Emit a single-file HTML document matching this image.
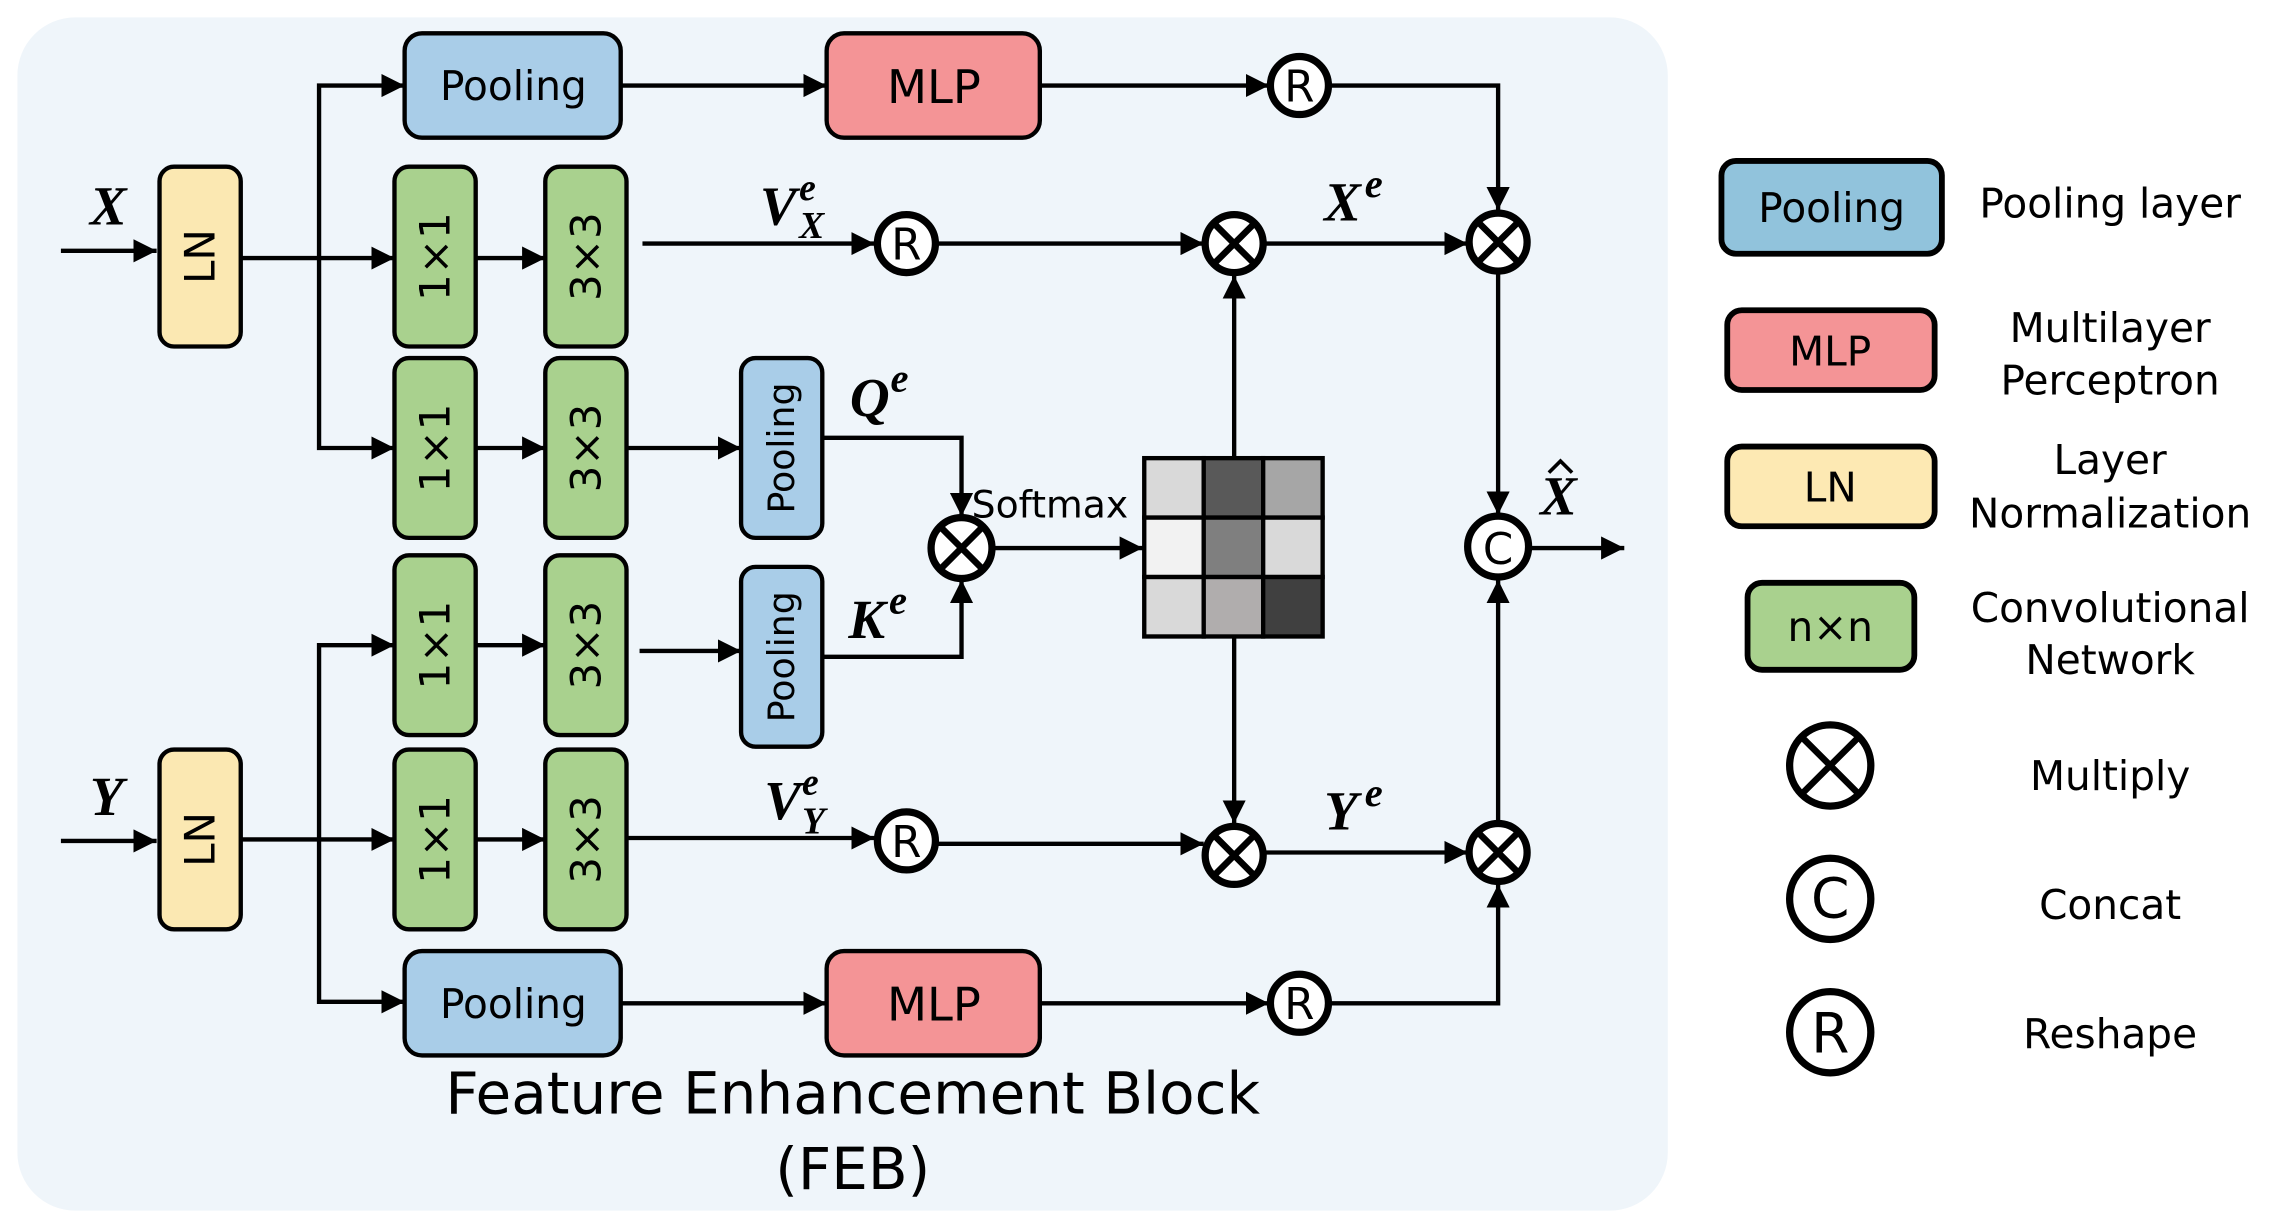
<!DOCTYPE html>
<html><head><meta charset="utf-8"><style>
html,body{margin:0;padding:0;background:#fff;}
svg{display:block;}
text{font-family:"DejaVu Sans","Liberation Sans",sans-serif;}
.m text{font-family:"Liberation Serif",serif;font-style:italic;font-weight:bold;}
</style></head><body>
<svg width="2274" height="1228" viewBox="0 0 1568 847" preserveAspectRatio="none" xmlns="http://www.w3.org/2000/svg">
<defs>
<marker id="ar" viewBox="0 0 10 10" refX="10" refY="5" markerWidth="16" markerHeight="16" markerUnits="userSpaceOnUse" orient="auto"><path d="M0,0 L10,5 L0,10 z" fill="#000"/></marker>
</defs>
<rect x="12" y="12" width="1138" height="823" rx="40" fill="#eff5fa"/>
<g stroke="#000" stroke-width="3" fill="none" marker-end="url(#ar)">
<path d="M428,59 H570"/><path d="M717,59 H875"/><path d="M917,59 H1033 V145"/>
<path d="M42,173 H108"/><path d="M166,178 H272"/><path d="M220,178 V59 H279"/><path d="M220,178 V309 H272"/>
<path d="M328,178 H376"/><path d="M328,309 H376"/><path d="M432,309 H511"/>
<path d="M443,168 H603"/><path d="M646,168 H830"/><path d="M872,168 H1012"/>
<path d="M567,302 H663 V356"/><path d="M567,453 H663 V400"/>
<path d="M685,378 H788"/>
<path d="M851,315 V190"/><path d="M851,438 V568"/>
<path d="M42,580 H108"/><path d="M166,579 H272"/><path d="M220,579 V445 H272"/><path d="M220,579 V691 H279"/>
<path d="M328,445 H376"/><path d="M328,579 H376"/><path d="M441,449 H511"/>
<path d="M432,578 H603"/><path d="M646,582 H830"/><path d="M872,588 H1012"/>
<path d="M428,692 H570"/><path d="M717,692 H875"/><path d="M917,692 H1033 V610"/>
<path d="M1033,189 V355"/><path d="M1033,566 V400"/>
<path d="M1055,378 H1120"/>
</g>
<g stroke="#000" stroke-width="3">
<rect x="279" y="23" width="149" height="72" rx="12" fill="#a9cde8"/>
<rect x="570" y="23" width="147" height="72" rx="12" fill="#f49496"/>
<rect x="279" y="656" width="149" height="72" rx="12" fill="#a9cde8"/>
<rect x="570" y="656" width="147" height="72" rx="12" fill="#f49496"/>
<rect x="110" y="115" width="56" height="124" rx="10" fill="#fbe8b2"/>
<rect x="110" y="517" width="56" height="124" rx="10" fill="#fbe8b2"/>
<rect x="272" y="115" width="56" height="124" rx="10" fill="#a9d18e"/>
<rect x="376" y="115" width="56" height="124" rx="10" fill="#a9d18e"/>
<rect x="272" y="247" width="56" height="124" rx="10" fill="#a9d18e"/>
<rect x="376" y="247" width="56" height="124" rx="10" fill="#a9d18e"/>
<rect x="272" y="383" width="56" height="124" rx="10" fill="#a9d18e"/>
<rect x="376" y="383" width="56" height="124" rx="10" fill="#a9d18e"/>
<rect x="272" y="517" width="56" height="124" rx="10" fill="#a9d18e"/>
<rect x="376" y="517" width="56" height="124" rx="10" fill="#a9d18e"/>
<rect x="511" y="247" width="56" height="124" rx="10" fill="#a9cde8"/>
<rect x="511" y="391" width="56" height="124" rx="10" fill="#a9cde8"/>
</g>
<g font-size="28" text-anchor="middle" fill="#000">
<text x="354" y="69">Pooling</text><text x="354" y="702">Pooling</text>
<text x="644" y="71" font-size="32">MLP</text><text x="644" y="704" font-size="32">MLP</text>
</g>
<g font-size="29" text-anchor="middle" dominant-baseline="central">
<text transform="translate(138,177) rotate(-90)">LN</text>
<text transform="translate(138,579) rotate(-90)">LN</text>
<text transform="translate(300,177) rotate(-90)">1×1</text>
<text transform="translate(404,177) rotate(-90)">3×3</text>
<text transform="translate(300,309) rotate(-90)">1×1</text>
<text transform="translate(404,309) rotate(-90)">3×3</text>
<text transform="translate(300,445) rotate(-90)">1×1</text>
<text transform="translate(404,445) rotate(-90)">3×3</text>
<text transform="translate(300,579) rotate(-90)">1×1</text>
<text transform="translate(404,579) rotate(-90)">3×3</text>
<text transform="translate(539,309) rotate(-90)" font-size="25">Pooling</text>
<text transform="translate(539,453) rotate(-90)" font-size="25">Pooling</text>
</g>
<g stroke="#000" stroke-width="3">
<rect x="789" y="316" width="41" height="41" fill="#d9d9d9"/><rect x="830" y="316" width="41" height="41" fill="#595959"/><rect x="871" y="316" width="41" height="41" fill="#a6a6a6"/>
<rect x="789" y="357" width="41" height="41" fill="#f2f2f2"/><rect x="830" y="357" width="41" height="41" fill="#7f7f7f"/><rect x="871" y="357" width="41" height="41" fill="#d9d9d9"/>
<rect x="789" y="398" width="41" height="41" fill="#d9d9d9"/><rect x="830" y="398" width="41" height="41" fill="#b0adad"/><rect x="871" y="398" width="41" height="41" fill="#404040"/>
</g>
<g stroke="#000" stroke-width="5" fill="#fff">
<circle cx="896" cy="59" r="20"/><circle cx="896" cy="692" r="20"/>
<circle cx="625" cy="168" r="20"/><circle cx="625" cy="580" r="20"/>
<circle cx="851" cy="168" r="20"/><circle cx="851" cy="590" r="20"/>
<circle cx="1033" cy="167" r="20"/><circle cx="1033" cy="588" r="20"/>
<circle cx="663" cy="378" r="21"/><circle cx="1033" cy="377" r="21"/>
<circle cx="1262" cy="528" r="28"/><circle cx="1262" cy="620" r="28"/><circle cx="1262" cy="712" r="28"/>
</g>
<g stroke="#000" stroke-width="4.5">
<path d="M837,154 L865,182 M865,154 L837,182"/>
<path d="M837,576 L865,604 M865,576 L837,604"/>
<path d="M1019,153 L1047,181 M1047,153 L1019,181"/>
<path d="M1019,574 L1047,602 M1047,574 L1019,602"/>
<path d="M649,364 L677,392 M677,364 L649,392"/>
<path d="M1242,508 L1282,548 M1282,508 L1242,548"/>
</g>
<g font-size="30" text-anchor="middle" fill="#000">
<text x="896" y="70">R</text><text x="896" y="703">R</text>
<text x="625" y="179">R</text><text x="625" y="591">R</text>
<text x="1033" y="389">C</text>
<text x="1262" y="633" font-size="38">C</text><text x="1262" y="726" font-size="38">R</text>
</g>
<g class="m" font-size="38">
<text x="62" y="155">X</text><text x="62" y="562">Y</text>
<text x="524" y="155">V</text><text x="551" y="138" font-size="26">e</text><text x="551" y="164" font-size="26">X</text>
<text x="527" y="565">V</text><text x="553" y="548" font-size="26">e</text><text x="553" y="575" font-size="26">Y</text>
<text x="586" y="287">Q</text><text x="614" y="270" font-size="28">e</text>
<text x="585" y="440">K</text><text x="613" y="423" font-size="28">e</text>
<text x="913" y="152">X</text><text x="941" y="136" font-size="28">e</text>
<text x="913" y="572">Y</text><text x="941" y="556" font-size="28">e</text>
<text x="1062" y="355">X</text>
</g>
<path d="M1068,326 L1076,318 L1084,326" stroke="#000" stroke-width="2.5" fill="none"/>
<text x="670" y="357" font-size="26" font-family="Liberation Sans">Softmax</text>
<g font-size="40" text-anchor="middle"><text x="588" y="768">Feature Enhancement Block</text><text x="588" y="820">(FEB)</text></g>
<g stroke="#000" stroke-width="4">
<rect x="1187" y="111" width="152" height="64" rx="10" fill="#91c3dc"/>
<rect x="1191" y="214" width="143" height="55" rx="10" fill="#f49496"/>
<rect x="1191" y="308" width="143" height="55" rx="10" fill="#fde9b3"/>
<rect x="1205" y="402" width="115" height="60" rx="10" fill="#a9d18e"/>
</g>
<g font-size="28" text-anchor="middle">
<text x="1263" y="153">Pooling</text><text x="1262" y="252">MLP</text><text x="1262" y="346">LN</text><text x="1262" y="442">n×n</text>
<text x="1455" y="150">Pooling layer</text>
<text x="1455" y="236">Multilayer</text><text x="1455" y="272">Perceptron</text>
<text x="1455" y="327">Layer</text><text x="1455" y="364">Normalization</text>
<text x="1455" y="429">Convolutional</text><text x="1455" y="465">Network</text>
<text x="1455" y="545">Multiply</text><text x="1455" y="634">Concat</text><text x="1455" y="723">Reshape</text>
</g>
</svg>
</body></html>
